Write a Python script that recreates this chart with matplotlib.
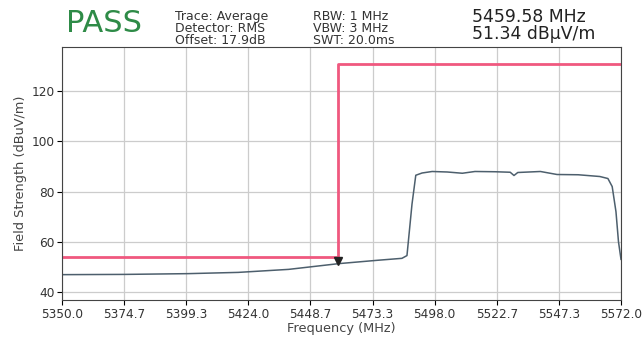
import matplotlib
matplotlib.use("Agg")
import matplotlib.pyplot as plt
import numpy as np

# trace (MHz, dBuV/m)
freq = [5350, 5375, 5400, 5420, 5440, 5460, 5475, 5485, 5487, 5489, 5490.5, 5493,
        5497, 5503, 5509, 5514, 5522, 5528, 5529.5, 5531, 5540, 5546.6, 5555,
        5563.6, 5566.8, 5568.5, 5570, 5571, 5572]
level = [46.9, 47.0, 47.3, 47.8, 49.0, 51.3, 52.6, 53.4, 54.5, 75.0, 86.5, 87.4,
         88.0, 87.8, 87.3, 88.0, 87.9, 87.7, 86.4, 87.6, 88.0, 86.8, 86.7,
         86.0, 85.2, 82.0, 72.0, 60.0, 53.0]

limit_f = [5350, 5459.6, 5459.6, 5572]
limit_v = [54, 54, 131, 131]

mk_f, mk_v = 5459.58, 51.34
xticks = np.linspace(5350, 5572, 10)
yticks = [40, 60, 80, 100, 120]

fig = plt.figure(figsize=(6.43, 3.41), dpi=100)
ax = fig.add_axes([62 / 643, 1 - 300 / 341, 559 / 643, 253 / 341])

ax.plot(freq, level, color="#4d5f6d", lw=1.1)
ax.plot(limit_f, limit_v, color="#f0587f", lw=2)
ax.plot(mk_f, mk_v + 1.0, marker="v", color="#222222", ms=6)

ax.set_xlim(5350, 5572)
ax.set_ylim(36.8, 137.6)
ax.set_xticks(xticks)
ax.set_xticklabels([f"{x:.1f}" for x in xticks], fontsize=8.7, color="#333333")
ax.set_yticks(yticks)
ax.set_yticklabels([str(y) for y in yticks], fontsize=8.7, color="#333333")
ax.tick_params(pad=2)
ax.grid(True, color="#cccccc", lw=0.9)
ax.set_axisbelow(True)
for s in ax.spines.values():
    s.set_color("#444444")
ax.set_xlabel("Frequency (MHz)", fontsize=9.3, color="#444444", labelpad=1)
ax.set_ylabel("Field Strength (dBuV/m)", fontsize=9.3, color="#444444", labelpad=3)

fig.text(66 / 643, 1 - 24 / 341, "PASS", fontsize=22, color="#2e8b47", va="center")
fig.text(175 / 643, 1 - 28.5 / 341, "Trace: Average\nDetector: RMS\nOffset: 17.9dB",
         fontsize=9, color="#333333", va="center", linespacing=0.9)
fig.text(313 / 643, 1 - 28.5 / 341, "RBW: 1 MHz\nVBW: 3 MHz\nSWT: 20.0ms",
         fontsize=9, color="#333333", va="center", linespacing=0.9)
fig.text(472 / 643, 1 - 25.5 / 341, "5459.58 MHz\n51.34 dBµV/m", fontsize=12.4,
         color="#222222", va="center", linespacing=0.95)

fig.savefig("out.png", dpi=100)
